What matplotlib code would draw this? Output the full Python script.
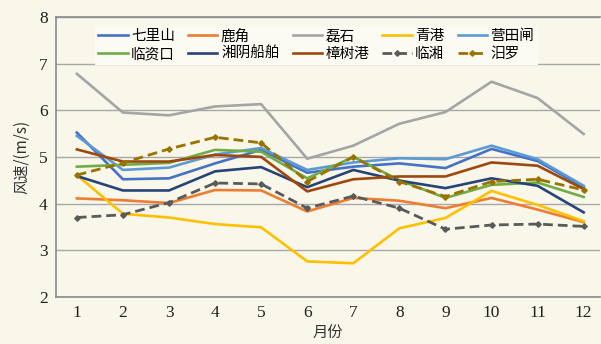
import matplotlib
matplotlib.use("Agg")
import matplotlib.pyplot as plt

months = [1, 2, 3, 4, 5, 6, 7, 8, 9, 10, 11, 12]

qilishan  = [5.52, 4.52, 4.54, 4.86, 5.15, 4.66, 4.79, 4.86, 4.76, 5.17, 4.91, 4.35]
lujiao    = [4.11, 4.07, 4.01, 4.29, 4.28, 3.83, 4.12, 4.06, 3.90, 4.12, 3.87, 3.60]
leishi    = [6.78, 5.95, 5.89, 6.08, 6.13, 4.96, 5.24, 5.71, 5.96, 6.61, 6.26, 5.49]
qinggang  = [4.61, 3.78, 3.70, 3.56, 3.49, 2.76, 2.72, 3.47, 3.69, 4.27, 3.97, 3.62]
yingtian  = [5.45, 4.72, 4.77, 5.05, 5.19, 4.72, 4.88, 4.97, 4.95, 5.24, 4.95, 4.38]
linzikou  = [4.79, 4.83, 4.87, 5.15, 5.11, 4.54, 5.00, 4.50, 4.12, 4.40, 4.45, 4.14]
xiangyin  = [4.59, 4.28, 4.28, 4.69, 4.78, 4.35, 4.72, 4.49, 4.33, 4.54, 4.38, 3.81]
zhangshu  = [5.16, 4.90, 4.90, 5.04, 5.00, 4.26, 4.52, 4.58, 4.58, 4.88, 4.81, 4.31]
linxiang  = [3.70, 3.76, 4.02, 4.44, 4.42, 3.90, 4.16, 3.90, 3.45, 3.54, 3.56, 3.51]
miluo     = [4.61, 4.87, 5.17, 5.42, 5.30, 4.47, 5.00, 4.47, 4.15, 4.47, 4.52, 4.29]

series = [
    ("七里山", qilishan, "#4472C4", "-"),
    ("鹿角", lujiao, "#ED7D31", "-"),
    ("磊石", leishi, "#A5A5A5", "-"),
    ("青港", qinggang, "#FFC000", "-"),
    ("营田闸", yingtian, "#5B9BD5", "-"),
    ("临资口", linzikou, "#70AD47", "-"),
    ("湘阴船舶", xiangyin, "#264478", "-"),
    ("樟树港", zhangshu, "#9E480E", "-"),
    ("临湘", linxiang, "#5A5A5A", "--"),
    ("汨罗", miluo, "#997300", "--"),
]

bg = "#f9f6ea"
cjk = ["Noto Sans CJK SC", "DejaVu Sans"]
serif = ["Liberation Serif", "DejaVu Serif"]

fig = plt.figure(figsize=(6.01, 3.44), dpi=100, facecolor=bg)
ax = fig.add_axes([0.093, 0.137, 0.905, 0.814], facecolor=bg)

handles = []
for name, vals, color, ls in series:
    if ls == "--":
        h, = ax.plot(months, vals, color=color, lw=2.0, ls=(0, (3.5, 1.8)),
                     marker="D", ms=2.8, label=name, zorder=3)
    else:
        h, = ax.plot(months, vals, color=color, lw=1.9, label=name, zorder=3)
    handles.append(h)

ax.set_xlim(0.545, 12.35)
ax.set_ylim(2, 8)
ax.set_xticks(months)
ax.set_yticks(range(2, 9))
ax.grid(axis="y", color="#a8a8a8", lw=1.0)
ax.set_axisbelow(True)
ax.tick_params(length=0, labelsize=12.5, pad=6, labelcolor="#222222")
for lab in ax.get_xticklabels() + ax.get_yticklabels():
    lab.set_fontfamily(serif)

ax.spines["right"].set_visible(False)
for s in ["left", "bottom", "top"]:
    ax.spines[s].set_color("#8a8a8a")
    ax.spines[s].set_linewidth(1.2)

ax.set_ylabel("风速/(m/s)", fontsize=11, family=cjk, color="#333333", labelpad=6)
ax.set_xlabel("月份", fontsize=11, family=cjk, color="#333333", labelpad=3)

# legend fills column by column, so interleave to read row by row
order = [0, 5, 1, 6, 2, 7, 3, 8, 4, 9]
leg = ax.legend([handles[i] for i in order], [series[i][0] for i in order],
                ncol=5, loc="upper left", bbox_to_anchor=(0.058, 0.995),
                prop={"family": cjk, "size": 10.5}, frameon=True,
                facecolor="#fbfaf3", edgecolor="none", framealpha=1,
                handlelength=2.0, handletextpad=0.25, columnspacing=0.9,
                labelspacing=0.25, borderpad=0.25, fancybox=False)

fig.savefig("out.png", dpi=100, facecolor=bg)
